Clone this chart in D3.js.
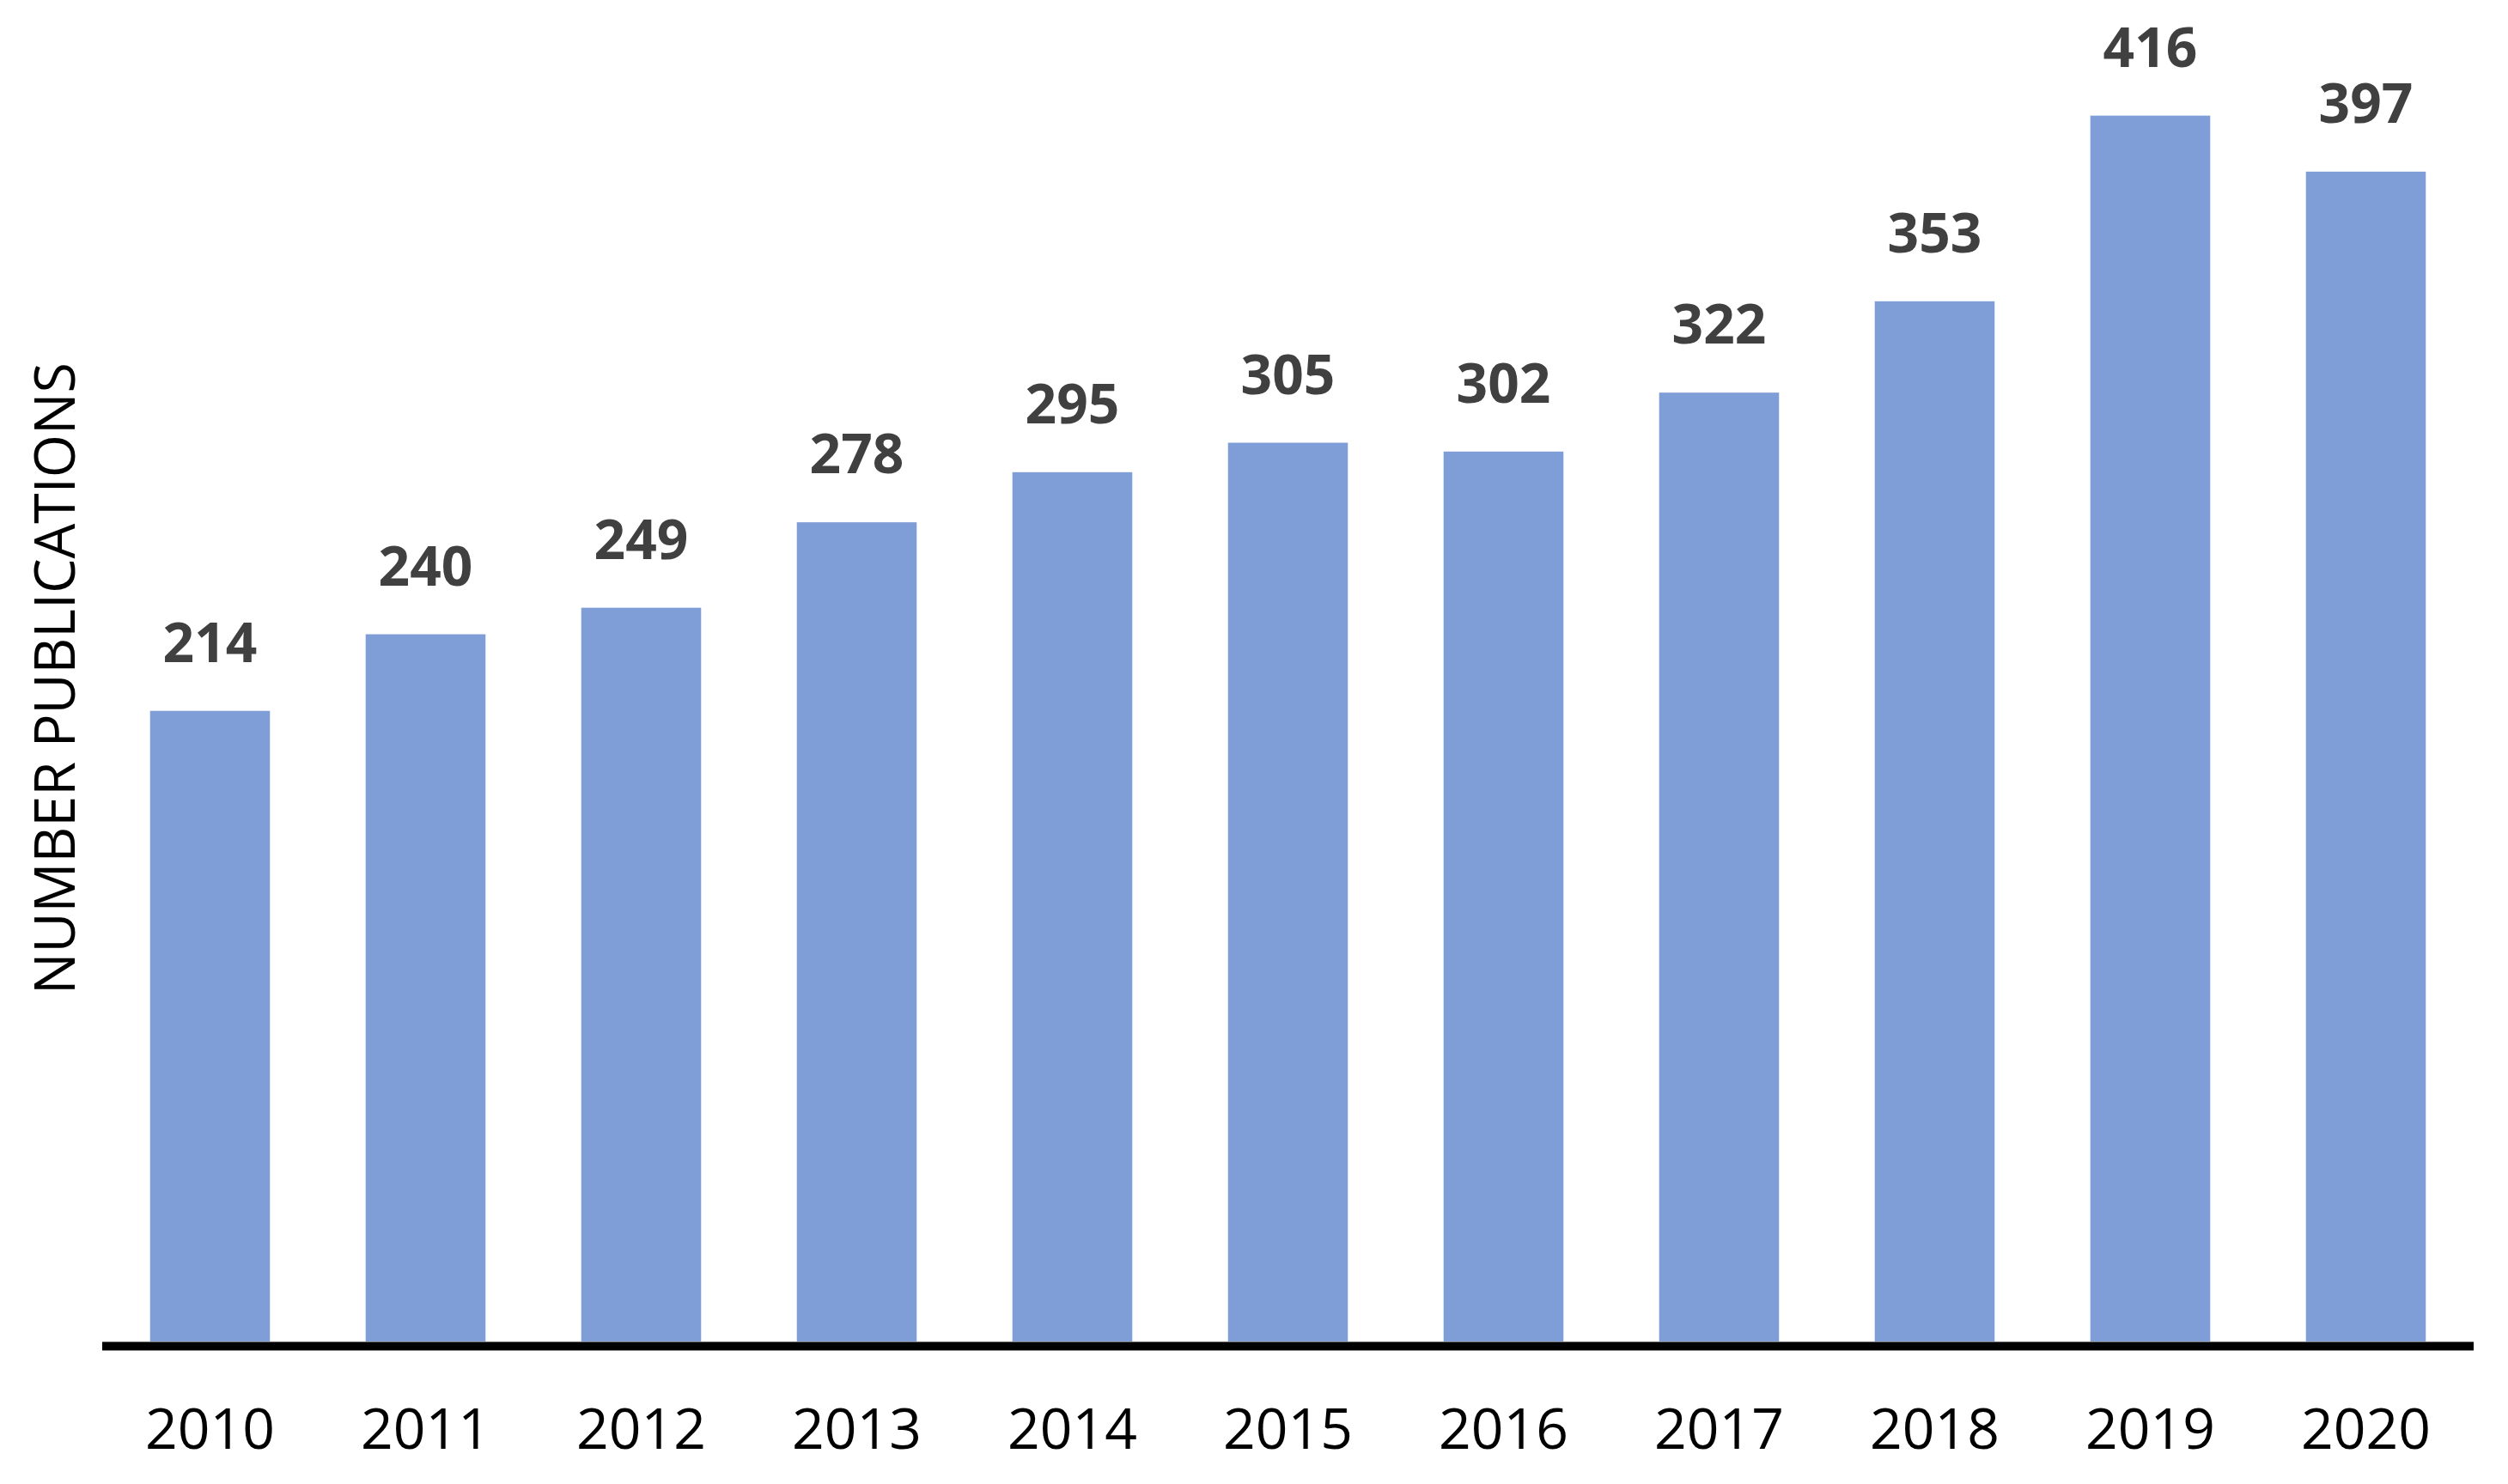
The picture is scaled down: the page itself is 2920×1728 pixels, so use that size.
<!DOCTYPE html>
<html><head><meta charset="utf-8">
<script src="https://cdn.jsdelivr.net/npm/d3@7"></script>
<style>html,body{margin:0;padding:0;background:#fff;}svg{display:block;}</style>
</head><body>
<script>
const years = ["2010","2011","2012","2013","2014","2015","2016","2017","2018","2019","2020"];
const publications = [214,240,249,278,295,305,302,322,353,416,397];
const yAxisTitle = "NUMBER PUBLICATIONS";

const W = 2920, H = 1728;
const svg = d3.select("body").append("svg").attr("width", W).attr("height", H);

const x = d3.scaleBand().domain(years).range([119, 2880]).paddingInner(0.444).paddingOuter(0.222);
const y = d3.scaleLinear().domain([0, 450]).range([1562, 18]);

svg.append("g").selectAll("rect").data(years).join("rect")
  .attr("x", d => x(d))
  .attr("width", x.bandwidth())
  .attr("y", (d,i) => y(publications[i]))
  .attr("height", (d,i) => y(0) - y(publications[i]))
  .attr("fill", "#7F9DD6");

svg.append("g").selectAll("text").data(years).join("text")
  .attr("x", d => x(d) + x.bandwidth()/2)
  .attr("y", (d,i) => y(publications[i]) - 57)
  .attr("text-anchor", "middle")
  .attr("font-family", "'Open Sans', sans-serif")
  .attr("font-weight", "bold")
  .attr("font-size", 64)
  .attr("fill", "#404040")
  .text((d,i) => publications[i]);

const xAxis = svg.append("g").attr("transform", `translate(0,${y(0)})`)
  .call(d3.axisBottom(x).tickSize(0).tickPadding(0));
xAxis.select(".domain").remove();
xAxis.selectAll("text")
  .attr("y", 125).attr("dy", 0)
  .attr("font-family", "'Open Sans', sans-serif")
  .attr("font-size", 66)
  .attr("fill", "#000");

svg.append("line")
  .attr("x1", 119).attr("x2", 2880)
  .attr("y1", 1567.5).attr("y2", 1567.5)
  .attr("stroke", "#000").attr("stroke-width", 10);

svg.append("text")
  .attr("transform", "translate(87,790) rotate(-90)")
  .attr("text-anchor", "middle")
  .attr("font-family", "'Open Sans', sans-serif")
  .attr("font-size", 66)
  .attr("textLength", 736)
  .attr("lengthAdjust", "spacingAndGlyphs")
  .attr("fill", "#000")
  .text(yAxisTitle);
</script>
</body></html>
